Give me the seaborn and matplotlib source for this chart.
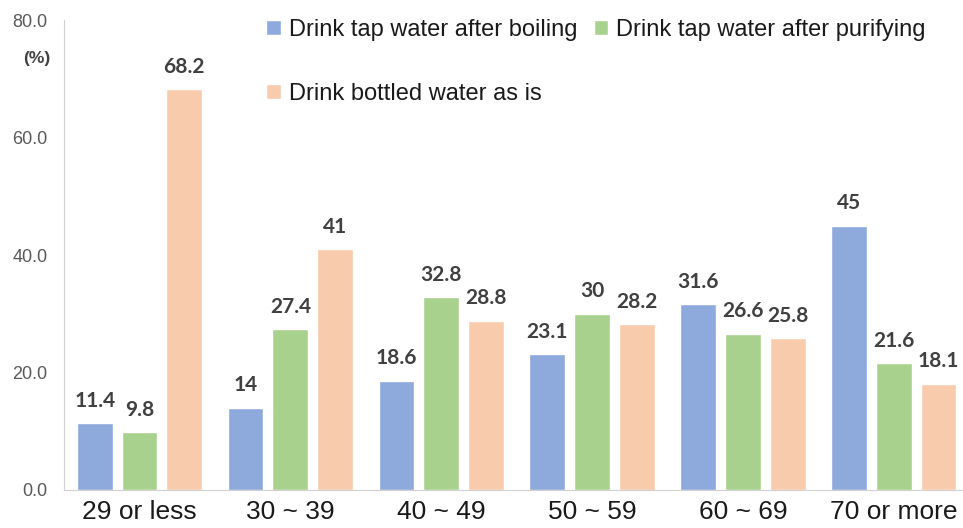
import matplotlib
matplotlib.use('Agg')
import matplotlib.pyplot as plt
import seaborn as sns
import pandas as pd

# data
age_groups = ['29 or less', '30 ~ 39', '40 ~ 49', '50 ~ 59', '60 ~ 69', '70 or more']
boiling = [11.4, 14, 18.6, 23.1, 31.6, 45]
purifying = [9.8, 27.4, 32.8, 30, 26.6, 21.6]
bottled = [68.2, 41, 28.8, 28.2, 25.8, 18.1]
series_names = ['Drink tap water after boiling', 'Drink tap water after purifying',
                'Drink bottled water as is']
colors = ['#8EA9DB', '#A9D18E', '#F8CBAD']

df = pd.DataFrame({
    'Age': age_groups * 3,
    'Value': boiling + purifying + bottled,
    'Type': [series_names[0]] * 6 + [series_names[1]] * 6 + [series_names[2]] * 6,
})

sns.set_style('white')
plt.rcParams['font.family'] = ['Liberation Sans', 'DejaVu Sans']

fig = plt.figure(figsize=(9.63, 5.28), dpi=100)
ax = fig.add_axes([0.0665, 0.072, 0.94, 0.89])

sns.barplot(data=df, x='Age', y='Value', hue='Type', palette=colors,
            width=0.89, gap=0.2, ax=ax, saturation=1)

for cont in ax.containers:
    ax.bar_label(cont, fmt='%g', padding=9, fontsize=15, fontweight='bold',
                 color='#404040', family=['Lato', 'DejaVu Sans'])

ax.set_xlim(-0.5, 5.5)
ax.set_ylim(0, 80)
ax.set_yticks([0, 20, 40, 60, 80])
ax.set_yticklabels(['0.0', '20.0', '40.0', '60.0', '80.0'], fontsize=13, color='#595959')
ax.tick_params(axis='x', labelsize=19, length=0, pad=7)
ax.tick_params(axis='y', length=0, pad=12)
for lbl in ax.get_xticklabels():
    lbl.set_color('#1a1a1a')
ax.set_xlabel('')
ax.set_ylabel('')

for s in ['top', 'right']:
    ax.spines[s].set_visible(False)
ax.spines['left'].set_color('#d0d0d0')
ax.spines['bottom'].set_color('#d0d0d0')

fig.text(0.052, 0.89, '(%)', fontsize=12.5, color='#404040', ha='right', va='center',
         fontweight='bold')

# column-first fill: put bottled under boiling, purifying in second column
handles, labels = ax.get_legend_handles_labels()
order = [0, 2, 1]
leg = ax.legend([handles[i] for i in order], [labels[i] for i in order],
                ncol=2, loc='upper left', bbox_to_anchor=(0.2, 1.047), frameon=False,
                handlelength=0.6, handleheight=0.6, handletextpad=0.35, columnspacing=0.7,
                labelspacing=1.75, prop={'size': 17})
for t in leg.get_texts():
    t.set_color('#1a1a1a')

fig.savefig('out.png', dpi=100)
